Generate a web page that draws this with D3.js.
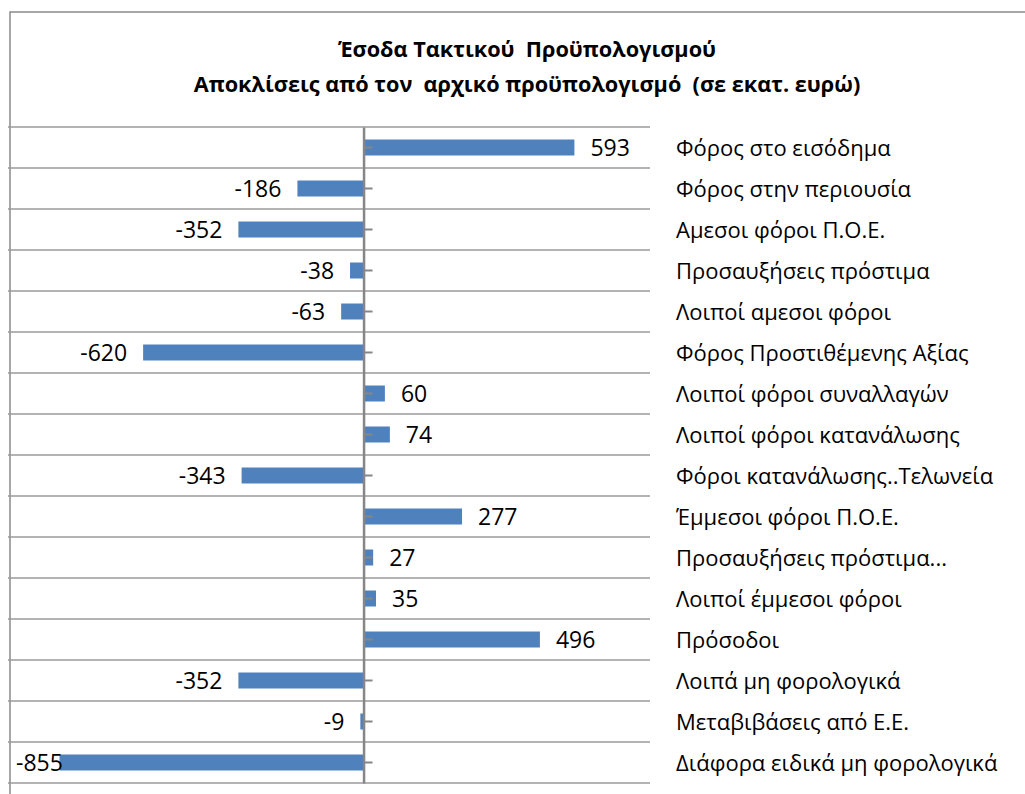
<!DOCTYPE html>
<html><head><meta charset="utf-8">
<script src="https://cdn.jsdelivr.net/npm/d3@7"></script>
<style>
html,body{margin:0;padding:0;background:#fff;}
svg{display:block;}
text{font-family:"Open Sans",sans-serif;fill:#000;white-space:pre;}
</style></head>
<body><svg id="c" width="1025" height="794"></svg>
<script>
const categories = ["Φόρος στο εισόδημα","Φόρος στην περιουσία","Αμεσοι φόροι Π.Ο.Ε.","Προσαυξήσεις πρόστιμα","Λοιποί αμεσοι φόροι","Φόρος Προστιθέμενης Αξίας","Λοιποί φόροι συναλλαγών","Λοιποί φόροι κατανάλωσης","Φόροι κατανάλωσης..Τελωνεία","Έμμεσοι φόροι Π.Ο.Ε.","Προσαυξήσεις πρόστιμα...","Λοιποί έμμεσοι φόροι","Πρόσοδοι","Λοιπά μη φορολογικά","Μεταβιβάσεις από Ε.Ε.","Διάφορα ειδικά μη φορολογικά"];
const values = [593,-186,-352,-38,-63,-620,60,74,-343,277,27,35,496,-352,-9,-855];
const titleLines = ["Έσοδα Τακτικού  Προϋπολογισμού","Αποκλίσεις από τον  αρχικό προϋπολογισμό  (σε εκατ. ευρώ)"];
const xDomain = [-1000, 800];

const svg = d3.select("#c");
const plotLeft = 8, plotRight = 648, plotTop = 127, plotBottom = 783;

// outer border
svg.append("path").attr("d","M10,794 L10,12 L1025,12").attr("fill","none").attr("stroke","#8a8a8a").attr("stroke-width",1.5);

// title
svg.append("g").selectAll("text").data(titleLines).join("text")
  .attr("x",527).attr("y",(d,i)=>57+i*35).attr("text-anchor","middle")
  .style("font-weight","bold").style("font-size","21.7px").text(d=>d);

const x = d3.scaleLinear().domain(xDomain).range([plotLeft, plotRight]);
const y = d3.scaleBand().domain(categories).range([plotTop, plotBottom]).padding(0);
const bw = y.bandwidth(), bh = bw*0.39;

// gridlines at band boundaries
const bounds = categories.map(c=>y(c)).concat([plotBottom]);
svg.append("g").selectAll("line").data(bounds).join("line")
  .attr("x1",plotLeft).attr("x2",plotRight+2).attr("y1",d=>d).attr("y2",d=>d)
  .attr("stroke","#9a9a9a").attr("stroke-width",1.5);

// bars
svg.append("g").selectAll("rect").data(values).join("rect")
  .attr("x",d=>x(Math.min(0,d))).attr("width",d=>Math.abs(x(d)-x(0)))
  .attr("y",(d,i)=>y(categories[i])+(bw-bh)/2).attr("height",bh)
  .attr("fill","#4F81BD");

// axis
const ax = svg.append("g").attr("transform",`translate(${x(0)},0)`)
  .call(d3.axisRight(y).tickSize(9).tickSizeOuter(0).tickFormat(""));
ax.select(".domain").attr("stroke","#868686").attr("stroke-width",2.5);
ax.selectAll(".tick line").attr("stroke","#868686").attr("stroke-width",2);

// value labels
const gap = 16;
svg.append("g").selectAll("text").data(values).join("text")
  .attr("y",(d,i)=>y(categories[i])+bw/2+8.5)
  .attr("x",d=>d>=0 ? x(d)+gap : x(d)-gap)
  .attr("text-anchor",d=>d>=0?"start":"end")
  .style("font-size","23px").text(d=>d)
  .each(function(d){
    if(d<0){const w=this.getComputedTextLength(); const xs=x(d)-gap-w; if(xs<16){d3.select(this).attr("text-anchor","start").attr("x",16);}}
  });

// category labels
svg.append("g").selectAll("text").data(categories).join("text")
  .attr("x",676).attr("y",d=>y(d)+bw/2+8.5)
  .style("font-size","22px").text(d=>d);
</script></body></html>
